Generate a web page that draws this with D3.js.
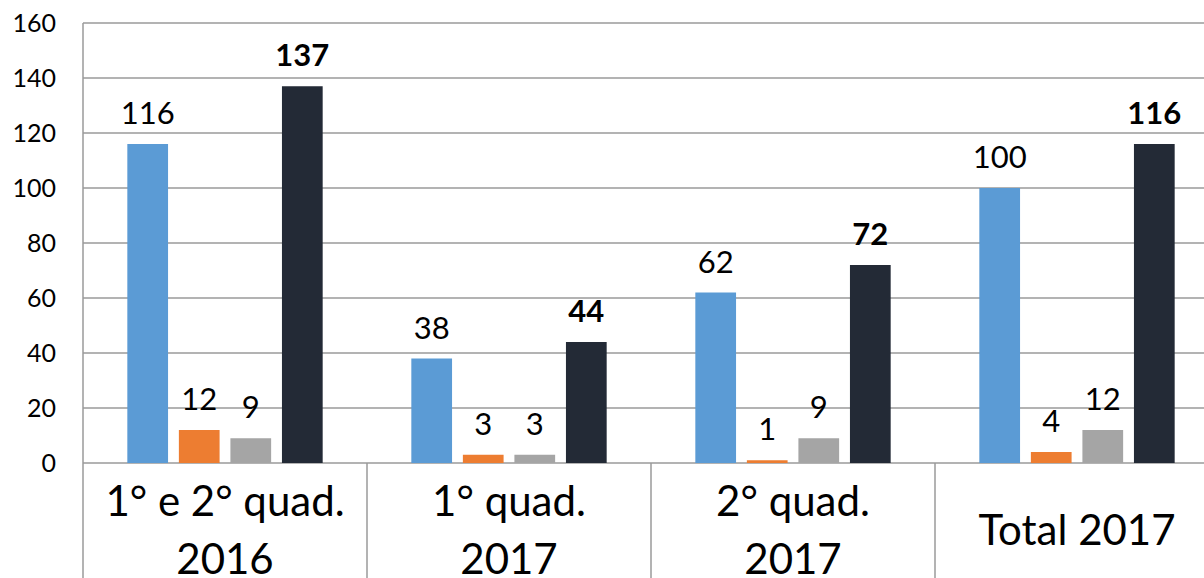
<!DOCTYPE html>
<html>
<head>
<meta charset="utf-8">
<script src="https://cdn.jsdelivr.net/npm/d3@7"></script>
<style>
	body { margin: 0; background: #fff; }
	svg { display: block; font-family: Lato, "Open Sans", sans-serif; }
</style>
</head>
<body>
<script>
// chart data
var categories = [["1° e 2° quad.", "2016"], ["1° quad.", "2017"], ["2° quad.", "2017"], ["Total 2017"]];
var series = ["a", "b", "c", "d"];
var values = [
	[116, 12, 9, 137],
	[38, 3, 3, 44],
	[62, 1, 9, 72],
	[100, 4, 12, 116]
];
var yTicks = [0, 20, 40, 60, 80, 100, 120, 140, 160];
var colors = ["#5b9bd5", "#ed7d31", "#a5a5a5", "#232a36"];

var width = 1204, height = 578;
var plotLeft = 83, plotTop = 23, plotBottom = 463, catWidth = 284;

var svg = d3.select("body")
	.append("svg")
	.attr("width", width)
	.attr("height", height);

var x0 = d3.scaleBand()
	.domain(d3.range(categories.length))
	.range([plotLeft, plotLeft + catWidth * categories.length]);

var x1 = d3.scaleBand()
	.domain(series)
	.range([0, x0.bandwidth()])
	.paddingInner(0.21)
	.paddingOuter(0.86);

var y = d3.scaleLinear()
	.domain([0, 160])
	.range([plotBottom, plotTop]);

// gridlines
svg.append("g")
	.selectAll("line")
	.data(yTicks)
	.join("line")
	.attr("x1", plotLeft)
	.attr("x2", x0.range()[1])
	.attr("y1", d => y(d))
	.attr("y2", d => y(d))
	.style("stroke", "#9a9a9a")
	.style("stroke-width", 1.5);

// y axis labels
svg.append("g")
	.selectAll("text")
	.data(yTicks)
	.join("text")
	.attr("x", 56)
	.attr("y", d => y(d))
	.attr("dy", "0.35em")
	.attr("text-anchor", "end")
	.style("font-size", "25px")
	.style("fill", "#000")
	.text(d => d);

// left axis line and category separators
svg.append("line")
	.attr("x1", plotLeft).attr("x2", plotLeft)
	.attr("y1", plotTop).attr("y2", height)
	.style("stroke", "#9a9a9a")
	.style("stroke-width", 1.5);

svg.append("g")
	.selectAll("line")
	.data(d3.range(1, categories.length + 1))
	.join("line")
	.attr("x1", d => x0(d - 1) + x0.bandwidth())
	.attr("x2", d => x0(d - 1) + x0.bandwidth())
	.attr("y1", plotBottom)
	.attr("y2", height)
	.style("stroke", "#9a9a9a")
	.style("stroke-width", 1.5);

// bars and value labels
var groups = svg.append("g")
	.selectAll("g")
	.data(values)
	.join("g")
	.attr("transform", (d, i) => "translate(" + x0(i) + ",0)");

groups.selectAll("rect")
	.data(d => d)
	.join("rect")
	.attr("x", (d, j) => x1(series[j]))
	.attr("width", x1.bandwidth())
	.attr("y", d => y(d))
	.attr("height", d => plotBottom - y(d))
	.style("fill", (d, j) => colors[j]);

groups.selectAll("text")
	.data(d => d)
	.join("text")
	.attr("x", (d, j) => x1(series[j]) + x1.bandwidth() / 2)
	.attr("y", d => y(d) - 20)
	.attr("text-anchor", "middle")
	.style("font-size", "31px")
	.style("font-weight", (d, j) => j == 3 ? "bold" : "normal")
	.style("fill", "#000")
	.text(d => d);

// category labels
var catLabels = svg.append("g")
	.selectAll("text")
	.data(categories)
	.join("text")
	.attr("x", (d, i) => x0(i) + x0.bandwidth() / 2)
	.attr("y", d => d.length == 1 ? 545 : 516)
	.attr("text-anchor", "middle")
	.style("font-size", "42px")
	.style("fill", "#000");

catLabels.selectAll("tspan")
	.data(d => d)
	.join("tspan")
	.attr("x", function() { return d3.select(this.parentNode).attr("x"); })
	.attr("dy", (d, k) => k == 0 ? 0 : 58)
	.text(d => d);
</script>
</body>
</html>
